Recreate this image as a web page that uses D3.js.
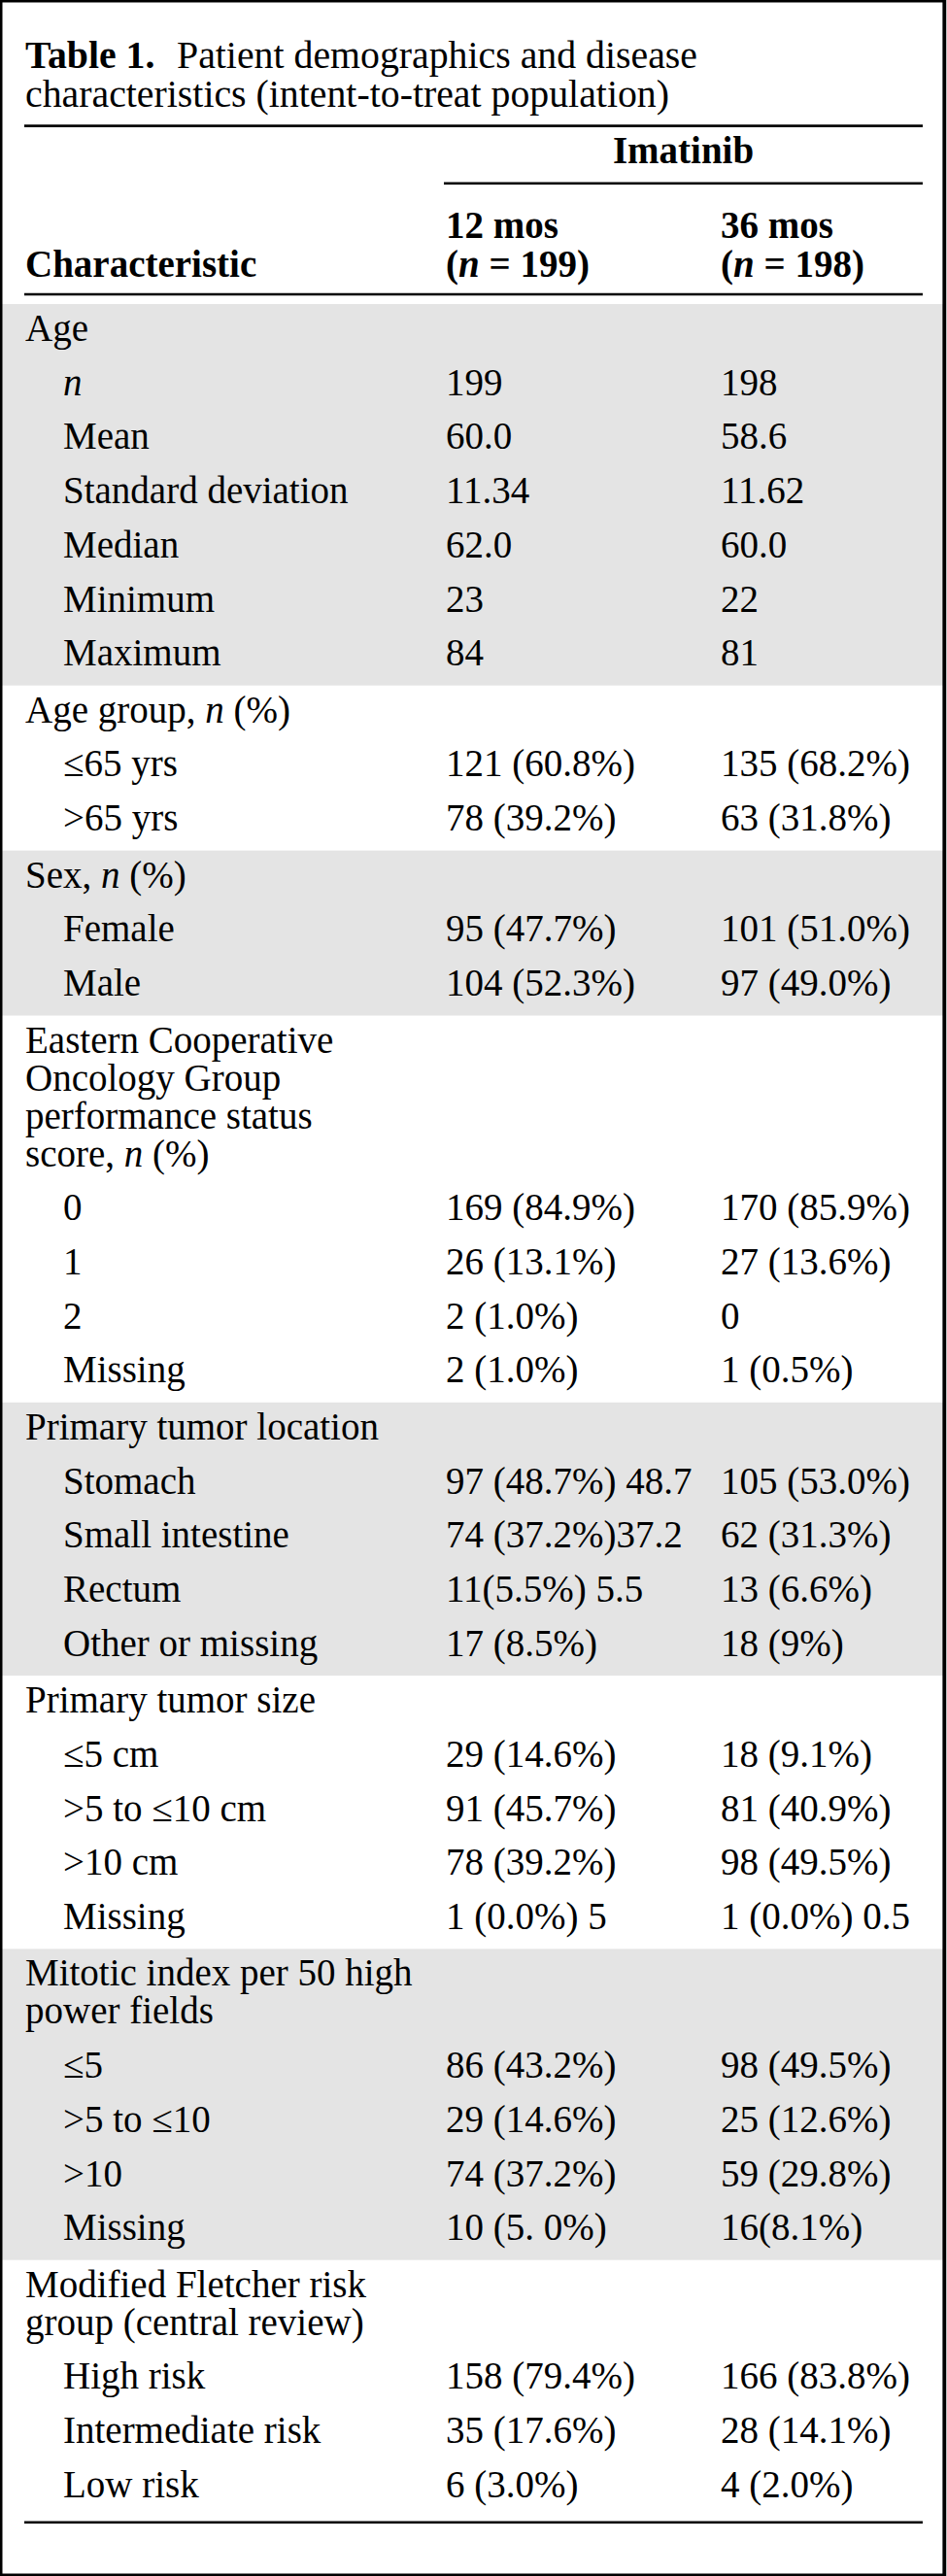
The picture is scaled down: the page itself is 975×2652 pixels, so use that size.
<!DOCTYPE html>
<html><head><meta charset="utf-8">
<script src="https://cdn.jsdelivr.net/npm/d3@7"></script>
<style>body{margin:0;background:#fff} svg{display:block}</style>
</head><body>
<script>
// ---------- data ----------
const titleBold = "Table 1.";
const titleLines = ["Patient demographics and disease", "characteristics (intent-to-treat population)"];
const groupLabel = "Imatinib";
const stubHead = "Characteristic";
const columnKeys = ["m12", "m36"];
const columnHeads = [["12 mos", "(*n* = 199)"], ["36 mos", "(*n* = 198)"]];
const sectionTitles = [
  ["Age"],
  ["Age group, *n* (%)"],
  ["Sex, *n* (%)"],
  ["Eastern Cooperative", "Oncology Group", "performance status", "score, *n* (%)"],
  ["Primary tumor location"],
  ["Primary tumor size"],
  ["Mitotic index per 50 high", "power fields"],
  ["Modified Fletcher risk", "group (central review)"]
];
const rowLabels = [
  ["*n*", "Mean", "Standard deviation", "Median", "Minimum", "Maximum"],
  ["≤65 yrs", ">65 yrs"],
  ["Female", "Male"],
  ["0", "1", "2", "Missing"],
  ["Stomach", "Small intestine", "Rectum", "Other or missing"],
  ["≤5 cm", ">5 to ≤10 cm", ">10 cm", "Missing"],
  ["≤5", ">5 to ≤10", ">10", "Missing"],
  ["High risk", "Intermediate risk", "Low risk"]
];
const values12 = [
  ["199", "60.0", "11.34", "62.0", "23", "84"],
  ["121 (60.8%)", "78 (39.2%)"],
  ["95 (47.7%)", "104 (52.3%)"],
  ["169 (84.9%)", "26 (13.1%)", "2 (1.0%)", "2 (1.0%)"],
  ["97 (48.7%) 48.7", "74 (37.2%)37.2", "11(5.5%) 5.5", "17 (8.5%)"],
  ["29 (14.6%)", "91 (45.7%)", "78 (39.2%)", "1 (0.0%) 5"],
  ["86 (43.2%)", "29 (14.6%)", "74 (37.2%)", "10 (5. 0%)"],
  ["158 (79.4%)", "35 (17.6%)", "6 (3.0%)"]
];
const values36 = [
  ["198", "58.6", "11.62", "60.0", "22", "81"],
  ["135 (68.2%)", "63 (31.8%)"],
  ["101 (51.0%)", "97 (49.0%)"],
  ["170 (85.9%)", "27 (13.6%)", "0", "1 (0.5%)"],
  ["105 (53.0%)", "62 (31.3%)", "13 (6.6%)", "18 (9%)"],
  ["18 (9.1%)", "81 (40.9%)", "98 (49.5%)", "1 (0.0%) 0.5"],
  ["98 (49.5%)", "25 (12.6%)", "59 (29.8%)", "16(8.1%)"],
  ["166 (83.8%)", "28 (14.1%)", "4 (2.0%)"]
];

// ---------- layout ----------
const W = 975, H = 2652;
const FONT = "'Liberation Serif','Times New Roman',Times,serif";
const FS = 39;
const TFS = 39.8;
const ROW = 55.7, LINE = 39, TOPOFF = 38, BOTOFF = 20.5;
const shadeColor = "#e4e4e4";

const x = d3.scaleOrdinal().domain(["section", "item", "m12", "m36"]).range([26, 65, 459, 742]);
const ruleX = d3.scaleLinear().domain([0, 1]).range([25, 950]);

const svg = d3.select("body").append("svg").attr("width", W).attr("height", H)
  .style("font-family", FONT);

function addRich(sel, str, bold) {
  const parts = str.split("*");
  parts.forEach((p, i) => {
    if (!p) return;
    const t = sel.append("tspan").text(p);
    if (i % 2 === 1) t.attr("font-style", "italic");
  });
  if (bold) sel.attr("font-weight", "bold");
  return sel;
}
function txt(g, xx, yy, str, opts = {}) {
  const t = g.append("text").attr("x", xx).attr("y", yy)
    .attr("font-size", opts.size || FS).attr("fill", "#000")
    .attr("xml:space", "preserve").style("white-space", "pre");
  if (opts.anchor) t.attr("text-anchor", opts.anchor);
  addRich(t, str, opts.bold);
  return t;
}

// compute section geometry
const sections = sectionTitles.map((title, i) => ({
  title, labels: rowLabels[i], v12: values12[i], v36: values36[i], shaded: i % 2 === 0
}));
let yTop = 313;
sections.forEach(s => {
  s.top = yTop;
  s.titleBase = s.title.map((_, k) => yTop + TOPOFF + k * LINE);
  const last = s.titleBase[s.titleBase.length - 1];
  s.rowBase = s.labels.map((_, k) => last + (k + 1) * ROW);
  s.bottom = s.rowBase[s.rowBase.length - 1] + BOTOFF;
  yTop = s.bottom;
});

const gBands = svg.append("g");
gBands.selectAll("rect").data(sections.filter(s => s.shaded)).join("rect")
  .attr("x", 2).attr("width", 970)
  .attr("y", d => d.top).attr("height", d => d.bottom - d.top)
  .attr("fill", shadeColor);

// title
const gt = svg.append("g");
txt(gt, 26, 69.5, titleBold, { bold: true, size: TFS });
txt(gt, 182, 69.5, titleLines[0], { size: TFS });
txt(gt, 26, 110, titleLines[1], { size: TFS });

// rules
const lastSection = sections[sections.length - 1];
const rules = [
  { x1: ruleX(0), x2: ruleX(1), y: 129.7, w: 2.7 },
  { x1: 457, x2: ruleX(1), y: 188.7, w: 2.4 },
  { x1: ruleX(0), x2: ruleX(1), y: 303, w: 2.7 },
  { x1: ruleX(0), x2: ruleX(1), y: lastSection.rowBase[lastSection.rowBase.length - 1] + 26, w: 2.6 }
];
svg.append("g").selectAll("line").data(rules).join("line")
  .attr("x1", d => d.x1).attr("x2", d => d.x2)
  .attr("y1", d => d.y).attr("y2", d => d.y)
  .attr("stroke", "#000").attr("stroke-width", d => d.w);

// header
const gh = svg.append("g");
txt(gh, (457 + ruleX(1)) / 2, 168, groupLabel, { bold: true, anchor: "middle" });
txt(gh, x("section"), 285, stubHead, { bold: true });
columnHeads.forEach((h, i) => {
  txt(gh, x(columnKeys[i]), 245, h[0], { bold: true });
  txt(gh, x(columnKeys[i]), 285, h[1], { bold: true });
});

// body
const gb = svg.append("g");
sections.forEach(s => {
  s.title.forEach((line, k) => txt(gb, x("section"), s.titleBase[k], line));
  s.labels.forEach((lab, k) => {
    txt(gb, x("item"), s.rowBase[k], lab);
    txt(gb, x("m12"), s.rowBase[k], s.v12[k]);
    txt(gb, x("m36"), s.rowBase[k], s.v36[k]);
  });
});

// frame
svg.append("rect").attr("x", 1.25).attr("y", 1.25).attr("width", W - 4.5).attr("height", H - 2.5)
  .attr("fill", "none").attr("stroke", "#000").attr("stroke-width", 2.5);
svg.append("line").attr("x1", 972.5).attr("x2", 972.5).attr("y1", 0).attr("y2", H)
  .attr("stroke", "#000").attr("stroke-width", 3.5);
</script>
</body></html>
